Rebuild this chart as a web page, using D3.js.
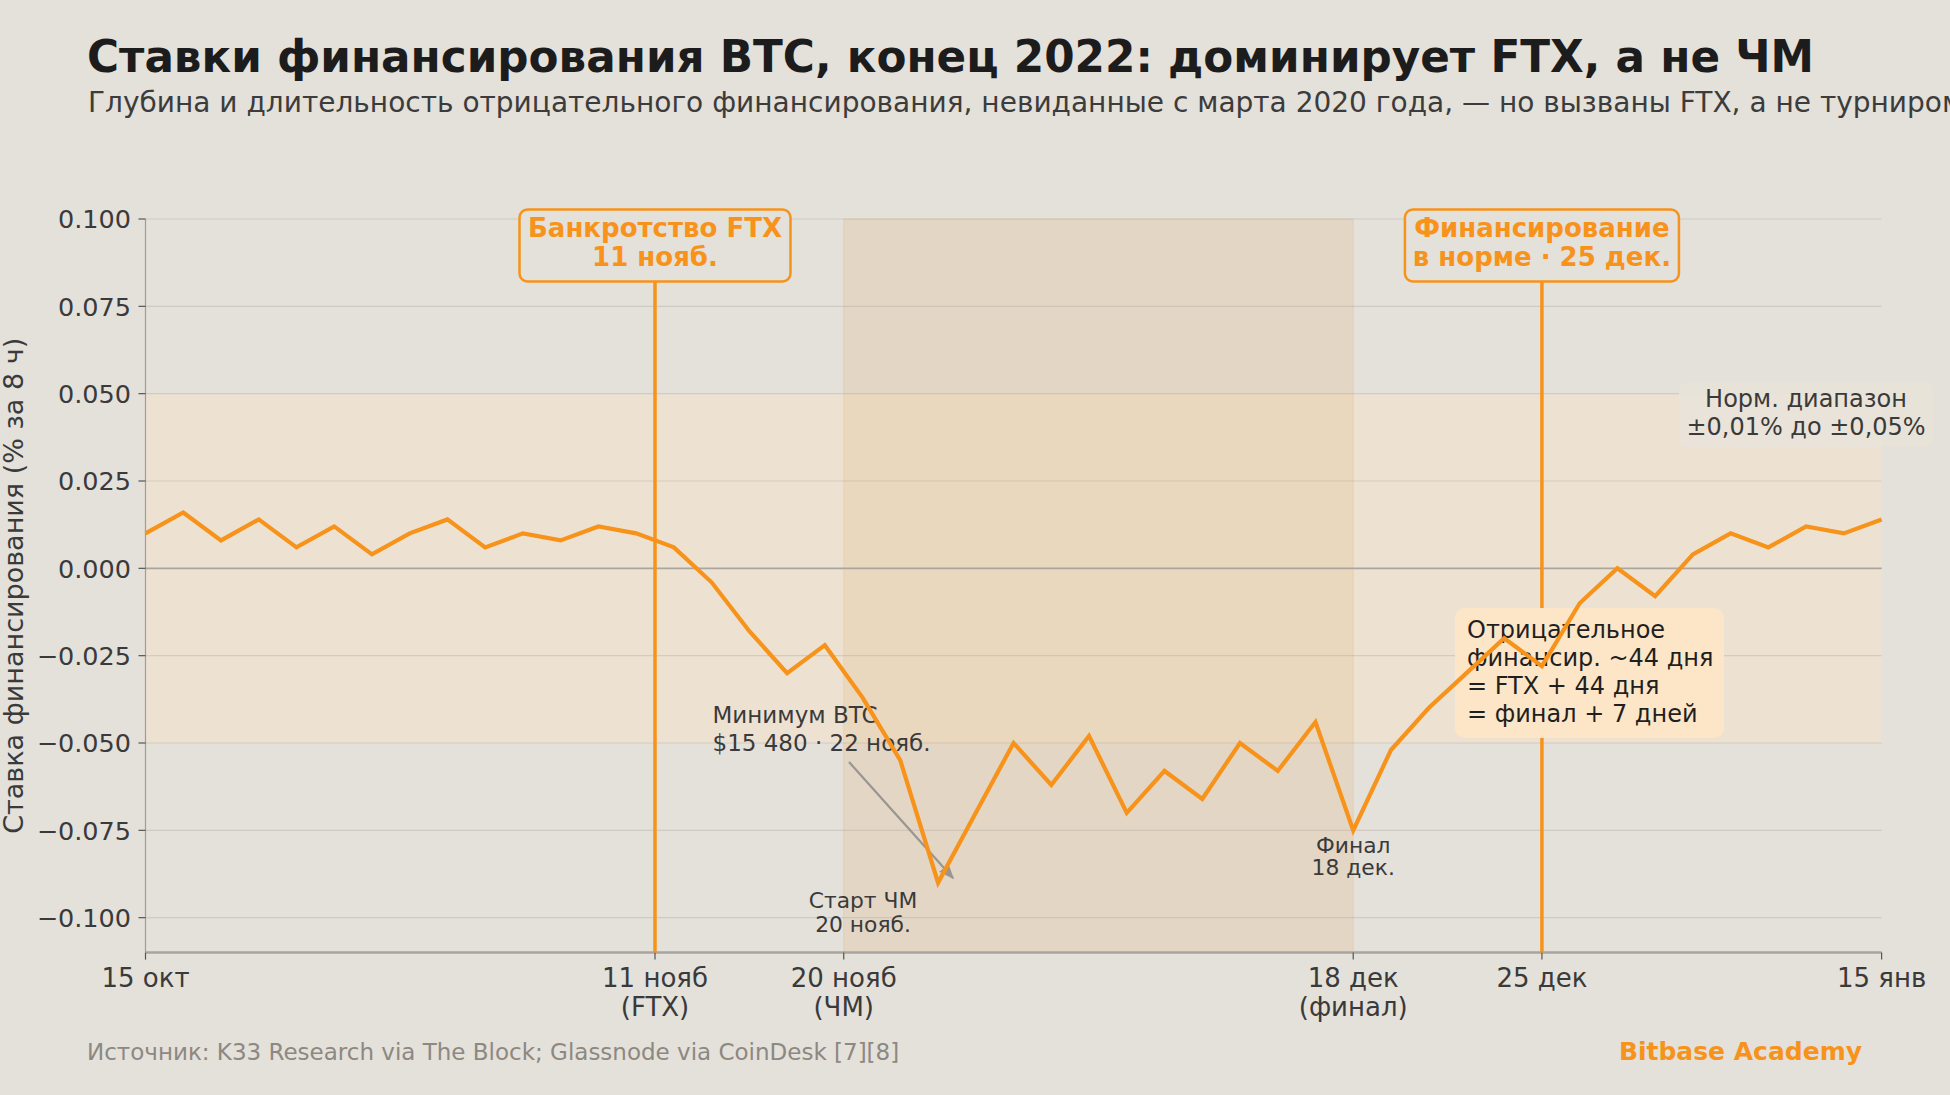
<!DOCTYPE html>
<html lang="ru">
<head>
<meta charset="utf-8">
<script src="https://cdn.jsdelivr.net/npm/d3@7"></script>
<style>
  html, body { margin: 0; padding: 0; background: #e4e0da; overflow: hidden; }
  svg { display: block; font-family: "DejaVu Sans", sans-serif; }
</style>
</head>
<body>
<div id="chart"></div>
<script>
// Данные: день от 15 окт 2022 и ставка финансирования (% за 8 ч)
const days = [0, 2, 4, 6, 8, 10, 12, 14, 16, 18, 20, 22, 24, 26, 28, 30, 32, 34, 36, 38,
              40, 42, 44, 46, 48, 50, 52, 54, 56, 58, 60, 62, 64, 66, 68, 70, 72, 74, 76, 78,
              80, 82, 84, 86, 88, 90, 92];
const funding = [0.010, 0.016, 0.008, 0.014, 0.006, 0.012, 0.004, 0.010, 0.014, 0.006,
                 0.010, 0.008, 0.012, 0.010, 0.006, -0.004, -0.018, -0.030, -0.022, -0.037,
                 -0.055, -0.090, -0.070, -0.050, -0.062, -0.048, -0.070, -0.058, -0.066, -0.050,
                 -0.058, -0.044, -0.075, -0.052, -0.040, -0.030, -0.020, -0.028, -0.010, 0.000,
                 -0.008, 0.004, 0.010, 0.006, 0.012, 0.010, 0.014];

// Подписи оси X
const tickDays = [0, 27, 37, 64, 74, 92];
const tickLabels = [["15 окт"], ["11 нояб", "(FTX)"], ["20 нояб", "(ЧМ)"], ["18 дек", "(финал)"], ["25 дек"], ["15 янв"]];
const yTicks = [0.1, 0.075, 0.05, 0.025, 0, -0.025, -0.05, -0.075, -0.1];

// События
const ftxDay = 27, wcStart = 37, wcEnd = 64, normalDay = 74;
const normBand = [-0.05, 0.05];

const W = 1950, H = 1095;
const margin = { left: 145.5, right: 1950 - 1881.6, top: 219, bottom: 1095 - 952.6 };

const svg = d3.select("#chart").append("svg")
    .attr("width", W)
    .attr("height", H);

svg.append("rect").attr("width", W).attr("height", H).attr("fill", "#e4e0da");

const x = d3.scaleLinear().domain([0, 92]).range([margin.left, W - margin.right]);
const y = d3.scaleLinear().domain([-0.11, 0.10]).range([H - margin.bottom, margin.top]);

const orange = "#f7931a";

// Заголовок и подзаголовок
svg.append("text")
    .attr("x", 87).attr("y", 72)
    .style("font-size", "43.7px").style("font-weight", "bold")
    .attr("fill", "#1c1c1c")
    .text("Ставки финансирования BTC, конец 2022: доминирует FTX, а не ЧМ");

svg.append("text")
    .attr("x", 88).attr("y", 112)
    .style("font-size", "28px")
    .attr("fill", "#3c3c3c")
    .text("Глубина и длительность отрицательного финансирования, невиданные с марта 2020 года, — но вызваны FTX, а не турниром");

// Нормальный диапазон
svg.append("rect")
    .attr("x", x(0)).attr("width", x(92) - x(0))
    .attr("y", y(normBand[1])).attr("height", y(normBand[0]) - y(normBand[1]))
    .attr("fill", "#ede2d2");

// Период ЧМ
svg.append("rect")
    .attr("x", x(wcStart)).attr("width", x(wcEnd) - x(wcStart))
    .attr("y", y(0.1)).attr("height", y(-0.11) - y(0.1))
    .attr("fill", "rgb(222,160,78)").attr("fill-opacity", 0.15)
    .attr("stroke", "rgb(230,170,90)").attr("stroke-opacity", 0.25);

// Сетка
svg.append("g").selectAll("line")
    .data(yTicks.filter(d => d !== 0))
    .enter().append("line")
    .attr("x1", x(0)).attr("x2", x(92))
    .attr("y1", d => y(d)).attr("y2", d => y(d))
    .attr("stroke", "#a8a29a").attr("stroke-opacity", 0.35).attr("stroke-width", 1.2);

svg.append("line")
    .attr("x1", x(0)).attr("x2", x(92))
    .attr("y1", y(0)).attr("y2", y(0))
    .attr("stroke", "#aaa69f").attr("stroke-width", 1.8);

// Ось Y
svg.append("line")
    .attr("x1", x(0)).attr("x2", x(0))
    .attr("y1", y(0.1)).attr("y2", y(-0.11))
    .attr("stroke", "#a09c96").attr("stroke-width", 1.2);

const yAxis = svg.append("g");
yAxis.selectAll("line").data(yTicks).enter().append("line")
    .attr("x1", x(0) - 7).attr("x2", x(0))
    .attr("y1", d => y(d)).attr("y2", d => y(d))
    .attr("stroke", "#555").attr("stroke-width", 1.2);
yAxis.selectAll("text").data(yTicks).enter().append("text")
    .attr("x", 131).attr("y", d => y(d))
    .attr("dy", "0.36em")
    .attr("text-anchor", "end")
    .style("font-size", "25.5px")
    .attr("fill", "#3a3a3a")
    .text(d => d3.format(".3f")(d));

svg.append("text")
    .attr("transform", `translate(13,${(y(0.1) + y(-0.11)) / 2}) rotate(-90)`)
    .attr("text-anchor", "middle")
    .attr("dy", "0.36em")
    .style("font-size", "27px")
    .attr("fill", "#3a3a3a")
    .text("Ставка финансирования (% за 8 ч)");

// Ось X
svg.append("line")
    .attr("x1", x(0)).attr("x2", x(92))
    .attr("y1", y(-0.11)).attr("y2", y(-0.11))
    .attr("stroke", "#a8a5a0").attr("stroke-width", 2.5);

const xAxis = svg.append("g");
tickDays.forEach((d, i) => {
    xAxis.append("line")
        .attr("x1", x(d)).attr("x2", x(d))
        .attr("y1", y(-0.11)).attr("y2", y(-0.11) + 7)
        .attr("stroke", "#555").attr("stroke-width", 1.2);
    const t = xAxis.append("text")
        .attr("text-anchor", "middle")
        .style("font-size", "26px")
        .attr("fill", "#3a3a3a");
    tickLabels[i].forEach((line, j) => {
        t.append("tspan").attr("x", x(d)).attr("y", 987 + j * 29).text(line);
    });
});

// Вертикальные линии событий
[ftxDay, normalDay].forEach(d => {
    svg.append("line")
        .attr("x1", x(d)).attr("x2", x(d))
        .attr("y1", 281).attr("y2", y(-0.11))
        .attr("stroke", orange).attr("stroke-width", 3.5);
});

// Подписи событий в рамках
function eventBox(day, w, lines) {
    const cx = x(day);
    svg.append("rect")
        .attr("x", cx - w / 2).attr("y", 209.5)
        .attr("width", w).attr("height", 72)
        .attr("rx", 8)
        .attr("fill", "#e4e0da")
        .attr("stroke", orange).attr("stroke-width", 2.5);
    const t = svg.append("text")
        .attr("text-anchor", "middle")
        .style("font-size", "26px").style("font-weight", "bold")
        .attr("fill", orange);
    lines.forEach((line, j) => {
        t.append("tspan").attr("x", cx).attr("y", 237 + j * 29).text(line);
    });
}
eventBox(ftxDay, 271, ["Банкротство FTX", "11 нояб."]);
eventBox(normalDay, 274, ["Финансирование", "в норме · 25 дек."]);

// Норм. диапазон
svg.append("rect")
    .attr("x", 1679).attr("y", 383)
    .attr("width", 254).attr("height", 64)
    .attr("rx", 7)
    .attr("fill", "#e8e3d9").attr("fill-opacity", 0.92);
const normText = svg.append("text")
    .attr("text-anchor", "middle")
    .style("font-size", "24px")
    .attr("fill", "#3a3a3a");
normText.append("tspan").attr("x", 1806).attr("y", 407).text("Норм. диапазон");
normText.append("tspan").attr("x", 1806).attr("y", 435).text("±0,01% до ±0,05%");

// Отрицательное финансирование
svg.append("rect")
    .attr("x", 1455).attr("y", 608)
    .attr("width", 269).attr("height", 130)
    .attr("rx", 10)
    .attr("fill", "#fce6c7");
const negText = svg.append("text")
    .style("font-size", "24px")
    .attr("fill", "#1f1f1f");
["Отрицательное", "финансир. ~44 дня", "= FTX + 44 дня", "= финал + 7 дней"].forEach((line, j) => {
    negText.append("tspan").attr("x", 1467).attr("y", 638 + j * 28).text(line);
});

// Минимум BTC
const minText = svg.append("text")
    .style("font-size", "23px")
    .attr("fill", "#3a3a3a");
minText.append("tspan").attr("x", 712.5).attr("y", 723).text("Минимум BTC");
minText.append("tspan").attr("x", 712.5).attr("y", 751).text("$15 480 · 22 нояб.");

svg.append("defs").append("marker")
    .attr("id", "arrow")
    .attr("viewBox", "0 0 10 10")
    .attr("refX", 9).attr("refY", 5)
    .attr("markerWidth", 7).attr("markerHeight", 7)
    .attr("orient", "auto")
    .append("path").attr("d", "M0,1 L10,5 L0,9 Z").attr("fill", "#999590");

svg.append("line")
    .attr("x1", 849).attr("y1", 762)
    .attr("x2", 953).attr("y2", 878)
    .attr("stroke", "#999590").attr("stroke-width", 2.2)
    .attr("marker-end", "url(#arrow)");

// Старт ЧМ и финал
const wcText = svg.append("text")
    .attr("text-anchor", "middle")
    .style("font-size", "21.8px")
    .attr("fill", "#3a3a3a");
wcText.append("tspan").attr("x", 863).attr("y", 908).text("Старт ЧМ");
wcText.append("tspan").attr("x", 863).attr("y", 932).text("20 нояб.");

const finalText = svg.append("text")
    .attr("text-anchor", "middle")
    .style("font-size", "21.8px")
    .attr("fill", "#3a3a3a");
finalText.append("tspan").attr("x", x(wcEnd)).attr("y", 853).text("Финал");
finalText.append("tspan").attr("x", x(wcEnd)).attr("y", 875).text("18 дек.");

// Линия ставок
const line = d3.line()
    .x((d, i) => x(days[i]))
    .y(d => y(d));

svg.append("path")
    .datum(funding)
    .attr("d", line)
    .attr("fill", "none")
    .attr("stroke", orange)
    .attr("stroke-width", 4.2)
    .attr("stroke-linejoin", "miter");

// Источник
svg.append("text")
    .attr("x", 87).attr("y", 1060)
    .style("font-size", "23px")
    .attr("fill", "#8c8882")
    .text("Источник: K33 Research via The Block; Glassnode via CoinDesk [7][8]");

svg.append("text")
    .attr("x", 1862).attr("y", 1060)
    .attr("text-anchor", "end")
    .style("font-size", "25px").style("font-weight", "bold")
    .attr("fill", orange)
    .text("Bitbase Academy");
</script>
</body>
</html>
